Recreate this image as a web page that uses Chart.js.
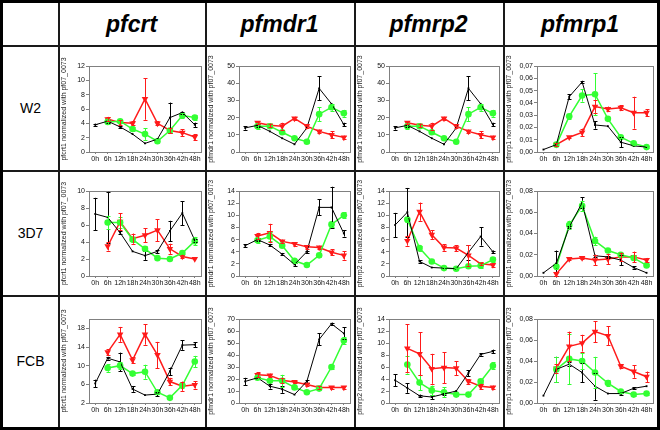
<!DOCTYPE html>
<html>
<head>
<meta charset="utf-8">
<script src="https://cdn.jsdelivr.net/npm/chart.js@4"></script>
<style>
  body { margin: 0; background: #fff; font-family: "Liberation Sans", Arial, sans-serif; }
  #fig { position: relative; width: 660px; height: 430px; }
  .frame { position: absolute; left: 0; top: 0; width: 654px; height: 424px; border: 3px solid #000; }
  .hl, .vl { position: absolute; background: #1a1a1a; }
  .head { position: absolute; top: 3px; height: 42px; line-height: 42px; text-align: center;
          font-weight: bold; font-style: italic; font-size: 23px; color: #000; }
  .lab { position: absolute; left: 3px; width: 55px; text-align: center; font-size: 14px; color: #000; }
  canvas { position: absolute; }
</style>
</head>
<body>
<div id="fig"><div class="frame"></div></div>
<script>
// ── Datos ──
const HOURS = ['0h', '6h', '12h', '18h', '24h', '30h', '36h', '42h', '48h'];
const STRAINS = ['W2', '3D7', 'FCB'];
const GENES = ['pfcrt', 'pfmdr1', 'pfmrp2', 'pfmrp1'];

// W2
const W2_PFCRT_K = [3.8, 4.3, 3.5, 2.5, 1.2, 1.8, 4.8, 5.5, 3.8];
const W2_PFCRT_K_ERR = [0.15, 0.2, 0.15, 0.1, 0.1, 0.1, 2.1, 0.15, 0.3];
const W2_PFCRT_G = [null, 4.2, 4.3, 3.2, 2.5, 1.5, 3.0, 5.1, 4.8];
const W2_PFCRT_G_ERR = [0, 0.3, 0.3, 0.3, 0.8, 0.3, 0.3, 0.3, 0.3];
const W2_PFCRT_R = [null, 4.6, 4.1, 4.0, 7.4, 4.0, 3.0, 2.7, 2.1];
const W2_PFCRT_R_ERR = [0, 0.3, 0.3, 0.3, 2.9, 0.3, 0.3, 0.5, 0.4];

const W2_PFMDR1_K = [14, 15.5, 12, 8, 4.5, 14, 37, 28, 16];
const W2_PFMDR1_K_ERR = [1, 1, 0.5, 0.5, 0.3, 0.5, 7, 0.5, 1];
const W2_PFMDR1_G = [null, 15, 15, 11.5, 8, 6, 22, 26, 22.5];
const W2_PFMDR1_G_ERR = [0, 1.5, 1, 1, 1, 1, 4, 2, 2];
const W2_PFMDR1_R = [null, 17, 15.5, 15, 19.5, 15, 12, 10, 8.5];
const W2_PFMDR1_R_ERR = [0, 1, 1, 2, 1, 1, 1, 2, 1];

const W2_PFMRP1_K = [0.002, 0.006, 0.045, 0.057, 0.022, 0.021, 0.008, 0.005, 0.004];
const W2_PFMRP1_K_ERR = [0.0005, 0.001, 0.002, 0.001, 0.003, 0.0005, 0.004, 0.0005, 0.0005];
const W2_PFMRP1_G = [null, 0.006, 0.029, 0.046, 0.047, 0.027, 0.012, 0.007, 0.004];
const W2_PFMRP1_G_ERR = [0, 0.001, 0.002, 0.005, 0.017, 0.001, 0.001, 0.001, 0.001];
const W2_PFMRP1_R = [null, 0.006, 0.012, 0.016, 0.037, 0.035, 0.036, 0.032, 0.032];
const W2_PFMRP1_R_ERR = [0, 0.001, 0.001, 0.003, 0.005, 0.002, 0.002, 0.013, 0.003];

// 3D7
const D7_PFCRT_K = [7.3, 6.9, 5.1, 2.9, 2.4, 2.9, 5.3, 7.4, 4.2];
const D7_PFCRT_K_ERR = [1.9, 3.0, 0.2, 0.1, 0.5, 0.2, 1.2, 1.4, 0.2];
const D7_PFCRT_G = [null, 6.3, 6.3, 4.3, 3.2, 2.1, 2.0, 2.7, 4.1];
const D7_PFCRT_G_ERR = [0, 0.8, 0.6, 0.3, 0.3, 0.1, 0.1, 0.2, 0.5];
const D7_PFCRT_R = [null, 3.5, 6.4, 4.4, 4.8, 5.4, 3.2, 2.3, 2.0];
const D7_PFCRT_R_ERR = [0, 0.5, 1.0, 0.6, 0.8, 1.3, 0.6, 0.2, 0.1];

const D7_PFMDR1_K = [5.0, 6.0, 5.1, 3.6, 1.9, 4.0, 11.3, 11.3, 7.0];
const D7_PFMDR1_K_ERR = [0.2, 0.2, 0.2, 0.2, 0.3, 0.2, 1.3, 3.4, 0.5];
const D7_PFMDR1_G = [null, 5.9, 6.5, 5.0, 2.5, 1.8, 3.4, 8.5, 10.0];
const D7_PFMDR1_G_ERR = [0, 0.4, 0.8, 0.3, 0.3, 0.2, 0.3, 0.4, 0.5];
const D7_PFMDR1_R = [null, 6.6, 7.1, 5.7, 5.3, 4.8, 4.7, 3.9, 3.4];
const D7_PFMDR1_R_ERR = [0, 0.5, 1.5, 0.3, 0.3, 0.3, 0.3, 0.5, 0.7];

const D7_PFMRP2_K = [8.4, 10.5, 2.4, 1.4, 1.3, 1.2, 3.9, 6.5, 4.0];
const D7_PFMRP2_K_ERR = [2, 4, 0.2, 0.1, 0.1, 0.1, 1.2, 1.5, 0.2];
const D7_PFMRP2_G = [null, 9.3, 4.6, 2.4, 1.3, 1.2, 1.6, 1.7, 2.7];
const D7_PFMRP2_G_ERR = [0, 0.4, 0.4, 0.3, 0.2, 0.2, 0.2, 0.3, 0.4];
const D7_PFMRP2_R = [null, 5.8, 10.6, 6.8, 4.7, 4.6, 3.4, 2.0, 1.8];
const D7_PFMRP2_R_ERR = [0, 0.8, 1.5, 0.7, 0.5, 0.5, 1.7, 0.2, 0.3];

const D7_PFMRP1_K = [0.003, 0.012, 0.046, 0.069, 0.019, 0.018, 0.015, 0.008, 0.003];
const D7_PFMRP1_K_ERR = [0.0003, 0.012, 0.001, 0.005, 0.001, 0.001, 0.005, 0.001, 0.0005];
const D7_PFMRP1_G = [null, 0.009, 0.048, 0.066, 0.033, 0.024, 0.020, 0.017, 0.010];
const D7_PFMRP1_G_ERR = [0, 0.002, 0.004, 0.005, 0.004, 0.001, 0.002, 0.002, 0.001];
const D7_PFMRP1_R = [null, 0.002, 0.016, 0.017, 0.015, 0.016, 0.018, 0.018, 0.015];
const D7_PFMRP1_R_ERR = [0, 0.002, 0.001, 0.001, 0.005, 0.005, 0.004, 0.005, 0.002];

// FCB
const FCB_PFCRT_K = [6.2, 11.6, 10.8, 5.0, 3.7, 3.9, 8.8, 14.4, 14.5];
const FCB_PFCRT_K_ERR = [0.8, 0.3, 2.0, 0.6, 0.1, 0.5, 0.8, 1.0, 0.5];
const FCB_PFCRT_G = [null, 9.5, 10.0, 8.3, 8.7, 4.3, 3.1, 5.8, 10.9];
const FCB_PFCRT_G_ERR = [0, 0.8, 0.8, 0.3, 1.5, 0.3, 0.2, 0.5, 1.2];
const FCB_PFCRT_R = [null, 12.9, 16.7, 11.2, 16.7, 12.3, 6.6, 5.6, 5.9];
const FCB_PFCRT_R_ERR = [0, 0.6, 1.6, 0.6, 2.2, 2.8, 0.8, 1.0, 0.8];

const FCB_PFMDR1_K = [18, 21, 14, 11.5, 7, 18, 53, 66, 58];
const FCB_PFMDR1_K_ERR = [3, 1, 2, 3, 0.5, 1, 5, 1, 5];
const FCB_PFMDR1_G = [null, 21, 18.5, 18.5, 13, 9, 12, 30, 52];
const FCB_PFMDR1_G_ERR = [0, 1, 1, 5, 1, 1, 1, 1.5, 3];
const FCB_PFMDR1_R = [null, 23.5, 23, 19, 17.5, 15.5, 13, 13, 13];
const FCB_PFMDR1_R_ERR = [0, 2, 1.5, 2, 1, 1, 1, 1, 1];

const FCB_PFMRP2_K = [3.8, 2.5, 1.2, 1.0, 1.5, 2.0, 5.0, 8.1, 8.6];
const FCB_PFMRP2_K_ERR = [1, 0.8, 0.2, 0.4, 0.2, 0.1, 0.5, 0.2, 0.3];
const FCB_PFMRP2_G = [null, 6.4, 3.4, 2.1, 1.8, 1.4, 1.4, 3.6, 6.2];
const FCB_PFMRP2_G_ERR = [0, 1.5, 1.3, 0.8, 0.8, 0.2, 0.2, 0.3, 0.6];
const FCB_PFMRP2_R = [null, 9.1, 8.2, 5.7, 5.9, 5.8, 3.6, 2.8, 2.6];
const FCB_PFMRP2_R_ERR = [0, 4, 3.6, 2.5, 2.6, 1.2, 0.4, 0.4, 0.3];

const FCB_PFMRP1_K = [0.007, 0.032, 0.037, 0.029, 0.016, 0.009, 0.009, 0.014, 0.016];
const FCB_PFMRP1_K_ERR = [0.0005, 0.012, 0.002, 0.009, 0.013, 0.0005, 0.001, 0.001, 0.0005];
const FCB_PFMRP1_G = [null, 0.032, 0.042, 0.040, 0.029, 0.019, 0.011, 0.008, 0.009];
const FCB_PFMRP1_G_ERR = [0, 0.012, 0.024, 0.008, 0.015, 0.003, 0.001, 0.001, 0.001];
const FCB_PFMRP1_R = [null, 0.033, 0.054, 0.057, 0.068, 0.064, 0.035, 0.030, 0.025];
const FCB_PFMRP1_R_ERR = [0, 0.004, 0.014, 0.008, 0.010, 0.009, 0.002, 0.006, 0.005];

// ── Geometría de la tabla ──
const COL_X = [58, 205, 354, 503, 657];
const ROW_Y = [45, 170, 295, 427];
const PAD_LEFT = [29, 32, 33, 32];
const PAD_RIGHT = [1, 1, 1, 2];
const PAD_TOP = [19, 19, 22];
const PAD_BOTTOM = [18, 19, 24];

const RED = '#ff1a1a';
const GREEN = '#33ff33';
const BLACK = '#000000';

// [fila, col, título eje y, min, max, paso, decimales, K, Kerr, G, Gerr, R, Rerr]
const PANELS = [
  [0, 0, 'pfcrt1 normalized with pf07_0073', 0, 12, 2, 0, W2_PFCRT_K, W2_PFCRT_K_ERR, W2_PFCRT_G, W2_PFCRT_G_ERR, W2_PFCRT_R, W2_PFCRT_R_ERR],
  [0, 1, 'pfmdr1 normalized with pf07_0073', 0, 50, 10, 0, W2_PFMDR1_K, W2_PFMDR1_K_ERR, W2_PFMDR1_G, W2_PFMDR1_G_ERR, W2_PFMDR1_R, W2_PFMDR1_R_ERR],
  [0, 2, 'pfmdr1 normalized with pf07_0073', 0, 50, 10, 0, W2_PFMDR1_K, W2_PFMDR1_K_ERR, W2_PFMDR1_G, W2_PFMDR1_G_ERR, W2_PFMDR1_R, W2_PFMDR1_R_ERR],
  [0, 3, 'pfmrp1 normalized with pf07_0073', 0, 0.07, 0.01, 2, W2_PFMRP1_K, W2_PFMRP1_K_ERR, W2_PFMRP1_G, W2_PFMRP1_G_ERR, W2_PFMRP1_R, W2_PFMRP1_R_ERR],
  [1, 0, 'pfcrt1 normalized with pf07_0073', 0, 10, 2, 0, D7_PFCRT_K, D7_PFCRT_K_ERR, D7_PFCRT_G, D7_PFCRT_G_ERR, D7_PFCRT_R, D7_PFCRT_R_ERR],
  [1, 1, 'pfmdr1 normalized with pf07_0073', 0, 14, 2, 0, D7_PFMDR1_K, D7_PFMDR1_K_ERR, D7_PFMDR1_G, D7_PFMDR1_G_ERR, D7_PFMDR1_R, D7_PFMDR1_R_ERR],
  [1, 2, 'pfmrp2 normalized with pf07_0073', 0, 14, 2, 0, D7_PFMRP2_K, D7_PFMRP2_K_ERR, D7_PFMRP2_G, D7_PFMRP2_G_ERR, D7_PFMRP2_R, D7_PFMRP2_R_ERR],
  [1, 3, 'pfmrp1 normalized with pf07_0073', 0, 0.08, 0.01, 2, D7_PFMRP1_K, D7_PFMRP1_K_ERR, D7_PFMRP1_G, D7_PFMRP1_G_ERR, D7_PFMRP1_R, D7_PFMRP1_R_ERR],
  [2, 0, 'pfcrt1 normalized with pf07_0073', 2, 20, 2, 0, FCB_PFCRT_K, FCB_PFCRT_K_ERR, FCB_PFCRT_G, FCB_PFCRT_G_ERR, FCB_PFCRT_R, FCB_PFCRT_R_ERR],
  [2, 1, 'pfmdr1 normalized with pf07_0073', 0, 70, 10, 0, FCB_PFMDR1_K, FCB_PFMDR1_K_ERR, FCB_PFMDR1_G, FCB_PFMDR1_G_ERR, FCB_PFMDR1_R, FCB_PFMDR1_R_ERR],
  [2, 2, 'pfmrp2 normalized with pf07_0073', 0, 14, 2, 0, FCB_PFMRP2_K, FCB_PFMRP2_K_ERR, FCB_PFMRP2_G, FCB_PFMRP2_G_ERR, FCB_PFMRP2_R, FCB_PFMRP2_R_ERR],
  [2, 3, 'pfmrp1 normalized with pf07_0073', 0, 0.08, 0.01, 2, FCB_PFMRP1_K, FCB_PFMRP1_K_ERR, FCB_PFMRP1_G, FCB_PFMRP1_G_ERR, FCB_PFMRP1_R, FCB_PFMRP1_R_ERR]
];

// ── Plugins ──
const errorBars = {
  id: 'errorBars',
  afterDatasetsDraw(chart) {
    const ctx = chart.ctx;
    const y = chart.scales.y;
    chart.data.datasets.forEach((ds, i) => {
      const meta = chart.getDatasetMeta(i);
      ctx.save();
      ctx.strokeStyle = ds.borderColor;
      ctx.lineWidth = 1;
      meta.data.forEach((pt, j) => {
        const v = ds.data[j], e = ds.errors[j];
        if (v == null || !e) return;
        const top = y.getPixelForValue(v + e);
        const bot = y.getPixelForValue(v - e);
        if (Math.abs(bot - top) < 2) return;
        const x = Math.round(pt.x) + 0.5;
        ctx.beginPath();
        ctx.moveTo(x, top); ctx.lineTo(x, bot);
        ctx.moveTo(x - 2, Math.round(top) + 0.5); ctx.lineTo(x + 2, Math.round(top) + 0.5);
        ctx.moveTo(x - 2, Math.round(bot) + 0.5); ctx.lineTo(x + 2, Math.round(bot) + 0.5);
        ctx.stroke();
      });
      ctx.restore();
    });
  }
};

const plotBox = {
  id: 'plotBox',
  beforeDatasetsDraw(chart) {
    const { left, top, right, bottom } = chart.chartArea;
    const ctx = chart.ctx;
    ctx.save();
    ctx.strokeStyle = '#808080';
    ctx.lineWidth = 1;
    ctx.strokeRect(Math.round(left) + 0.5, Math.round(top) + 0.5, Math.round(right - left), Math.round(bottom - top));
    ctx.restore();
  }
};

// ── Tabla ──
const fig = document.getElementById('fig');

function addDiv(cls, css, text) {
  const d = document.createElement('div');
  d.className = cls;
  Object.assign(d.style, css);
  if (text) d.textContent = text;
  fig.appendChild(d);
}

COL_X.slice(0, 4).forEach(x => addDiv('vl', { left: x + 'px', top: '3px', width: '2px', height: '424px' }));
ROW_Y.slice(0, 3).forEach(y => addDiv('hl', { left: '3px', top: y + 'px', width: '654px', height: '2px' }));
GENES.forEach((g, c) => addDiv('head', { left: COL_X[c] + 'px', width: (COL_X[c + 1] - COL_X[c]) + 'px' }, g));
STRAINS.forEach((s, r) => addDiv('lab', { top: (ROW_Y[r] + ROW_Y[r + 1]) / 2 - 8 + 'px' }, s));

// ── Gráficas ──
function crearPanel(p) {
  const [row, col, titulo, yMin, yMax, paso, dec, k, kErr, g, gErr, r, rErr] = p;
  const left = COL_X[col] + 2, top = ROW_Y[row] + 2;
  const w = COL_X[col + 1] - COL_X[col] - 2, h = ROW_Y[row + 1] - ROW_Y[row] - 2;
  const cv = document.createElement('canvas');
  cv.width = w; cv.height = h;
  cv.style.left = left + 'px'; cv.style.top = top + 'px';
  cv.style.width = w + 'px'; cv.style.height = h + 'px';
  fig.appendChild(cv);

  const padL = PAD_LEFT[col], padB = PAD_BOTTOM[row];

  new Chart(cv, {
    type: 'line',
    data: {
      labels: HOURS,
      datasets: [
        { data: k, errors: kErr, borderColor: BLACK, backgroundColor: BLACK, borderWidth: 1,
          pointStyle: 'rect', pointRadius: 1.3, pointBorderWidth: 0 },
        { data: g, errors: gErr, borderColor: GREEN, backgroundColor: GREEN, borderWidth: 1.5,
          pointStyle: 'circle', pointRadius: 3.3, pointBorderWidth: 0 },
        { data: r, errors: rErr, borderColor: RED, backgroundColor: RED, borderWidth: 1.5,
          pointStyle: 'triangle', pointRotation: 180, pointRadius: 3.8, pointBorderWidth: 0 }
      ]
    },
    options: {
      responsive: false,
      animation: false,
      events: [],
      layout: { padding: { top: PAD_TOP[row], right: PAD_RIGHT[col], left: 0, bottom: 0 } },
      plugins: { legend: { display: false }, tooltip: { enabled: false } },
      elements: { line: { tension: 0 } },
      scales: {
        x: {
          offset: true,
          border: { display: false },
          grid: { drawOnChartArea: false, drawTicks: true, tickLength: 2, color: '#808080' },
          ticks: { autoSkip: false, maxRotation: 0, padding: 1, color: '#111',
                   font: { family: 'Liberation Sans, Arial', size: 7 } },
          afterFit: s => { s.height = padB; }
        },
        y: {
          min: yMin, max: yMax,
          border: { display: false },
          grid: { drawOnChartArea: false, drawTicks: true, tickLength: 3, color: '#808080' },
          ticks: { stepSize: paso, padding: 1, color: '#111',
                   font: { family: 'Liberation Sans, Arial', size: 7 },
                   callback: v => dec ? v.toFixed(dec).replace('.', ',') : String(Math.round(v)) },
          title: { display: true, text: titulo, color: '#222', padding: 0,
                   font: { family: 'Liberation Sans, Arial', size: 7 } },
          afterFit: s => { s.width = padL; }
        }
      }
    },
    plugins: [plotBox, errorBars]
  });
}

PANELS.forEach(crearPanel);
</script>
</body>
</html>
